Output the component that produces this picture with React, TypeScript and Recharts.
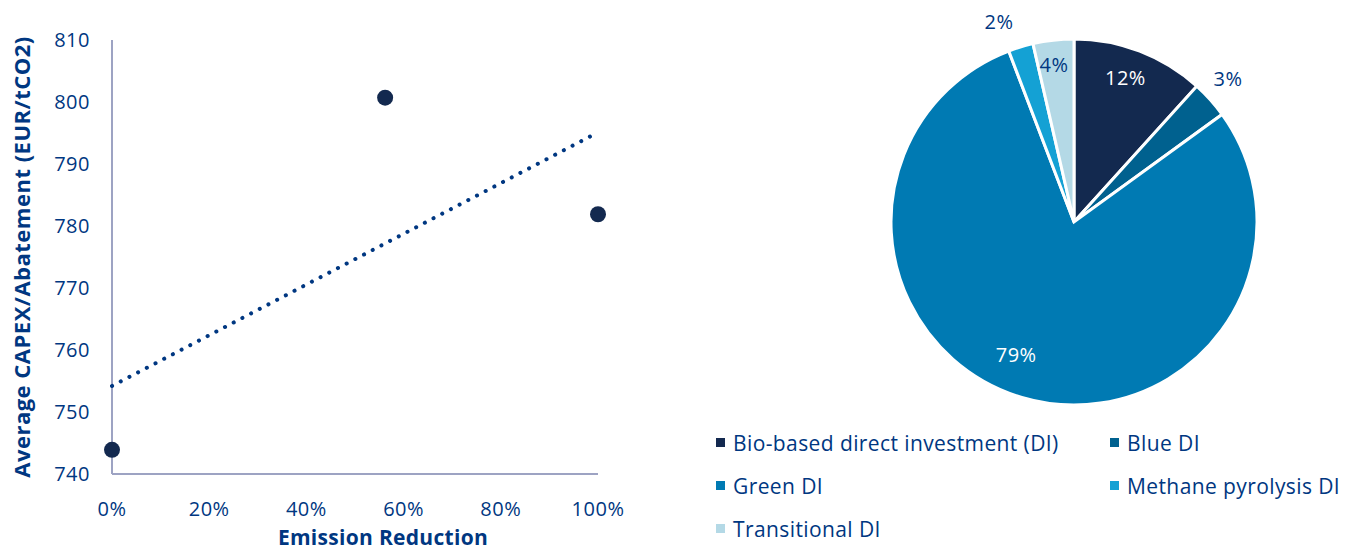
import React from 'react';
import { ScatterChart, Scatter, XAxis, YAxis, PieChart, Pie, Cell, Legend } from 'recharts';

// ---- Scatter data ----
const emissionReduction = [0, 0.562, 1.0];
const avgCapex = [743.9, 800.7, 781.9];
const trendX = [0, 1.0];
const trendY = [754.2, 795.1];
const xTicks = [0, 0.2, 0.4, 0.6, 0.8, 1.0];
const yTicks = [740, 750, 760, 770, 780, 790, 800, 810];

// ---- Pie data ----
const pieNames = ['Bio-based direct investment (DI)', 'Blue DI', 'Green DI', 'Methane pyrolysis DI', 'Transitional DI'];
const pieValues = [11.7, 3.3, 79.2, 2.2, 3.6];
const pieColors = ['#13294F', '#00618F', '#007AB3', '#14A1D4', '#B4D9E6'];

const points = emissionReduction.map((x, i) => ({ x, y: avgCapex[i] }));
const trend = trendX.map((x, i) => ({ x, y: trendY[i] }));
const pieData = pieNames.map((name, i) => ({ name, value: pieValues[i] }));

const BLUE = '#003781';
const FONT = '"Open Sans", Lato, sans-serif';
const AXIS = '#9DA3C3';
const RAD = Math.PI / 180;

const labelR = [0.84, 1.15, 0.79, 1.17, 0.87];
const labelDA = [1.5, 1, -7, 3.6, 0.7];

const renderPieLabel = (props: any) => {
  const { cx, cy, midAngle, outerRadius, index, value } = props;
  const a = (midAngle + labelDA[index]) * RAD;
  const r = outerRadius * labelR[index];
  const x = cx + r * Math.cos(-a);
  const y = cy + r * Math.sin(-a);
  const inside = index === 0 || index === 2;
  return (
    <text x={x} y={y} fill={inside ? '#FFFFFF' : BLUE} textAnchor="middle" dominantBaseline="central"
      fontSize={20} letterSpacing={0.5} fontFamily={FONT}>
      {`${Math.round(value)}%`}
    </text>
  );
};

const renderLegend = () => (
  <div style={{ display: 'grid', gridTemplateColumns: '394px auto', fontFamily: FONT, fontSize: 21, letterSpacing: 0.4, color: BLUE }}>
    {pieData.map((d, i) => (
      <div key={d.name} style={{ display: 'flex', alignItems: 'center', height: 43, whiteSpace: 'nowrap' }}>
        <span style={{ display: 'inline-block', width: 9, height: 9, background: pieColors[i], marginRight: 8 }} />
        <span>{d.name}</span>
      </div>
    ))}
  </div>
);

const tickStyle = { fill: BLUE, fontSize: 20, fontFamily: FONT, letterSpacing: 0.5 };

export default function App() {
  return (
    <div style={{ position: 'absolute', left: 0, top: 0, width: 1346, height: 552, background: '#fff' }}>
      <div style={{ position: 'absolute', left: 0, top: 0 }}>
        <ScatterChart width={660} height={552} margin={{ top: 40, right: 62, bottom: 0, left: 0 }}>
          <XAxis type="number" dataKey="x" domain={[0, 1]} ticks={xTicks}
            tickFormatter={(v: number) => `${Math.round(v * 100)}%`}
            axisLine={{ stroke: AXIS, strokeWidth: 2 }} tickLine={false} tickSize={0} tickMargin={28}
            tick={tickStyle} height={78} interval={0}
            label={{
              content: () => (
                <text x={383} y={545} textAnchor="middle" fill={BLUE} fontSize={21} letterSpacing={0.3}
                  fontWeight={700} fontFamily={FONT}>
                  Emission Reduction
                </text>
              ),
            }} />
          <YAxis type="number" dataKey="y" domain={[740, 810]} ticks={yTicks}
            axisLine={{ stroke: AXIS, strokeWidth: 2 }} tickLine={false} tickSize={0} tickMargin={22}
            tick={tickStyle} width={112} interval={0}
            label={{
              content: () => (
                <text x={0} y={0} transform="translate(30,257) rotate(-90)" textAnchor="middle" fill={BLUE}
                  fontSize={22} letterSpacing={0.5} fontWeight={700} fontFamily={FONT}>
                  Average CAPEX/Abatement (EUR/tCO2)
                </text>
              ),
            }} />
          <Scatter data={trend} isAnimationActive={false} lineType="joint"
            line={{ stroke: BLUE, strokeWidth: 4, strokeDasharray: '0.1 9.7', strokeLinecap: 'round' }}
            shape={() => <g />} />
          <Scatter data={points} isAnimationActive={false}
            shape={(p: any) => <circle cx={p.cx} cy={p.cy} r={8} fill="#13294F" />} />
        </ScatterChart>
      </div>
      <div style={{ position: 'absolute', left: 660, top: 0 }}>
        <PieChart width={686} height={552} margin={{ top: 0, right: 0, bottom: 0, left: 0 }}>
          <Pie data={pieData} dataKey="value" nameKey="name" cx={414} cy={222} outerRadius={183}
            startAngle={90} endAngle={-270} stroke="#FFFFFF" strokeWidth={3}
            isAnimationActive={false} labelLine={false} label={renderPieLabel}>
            {pieData.map((d, i) => <Cell key={d.name} fill={pieColors[i]} />)}
          </Pie>
          <Legend content={renderLegend} wrapperStyle={{ position: 'absolute', left: 56, top: 421, width: 630 }} />
        </PieChart>
      </div>
    </div>
  );
}
